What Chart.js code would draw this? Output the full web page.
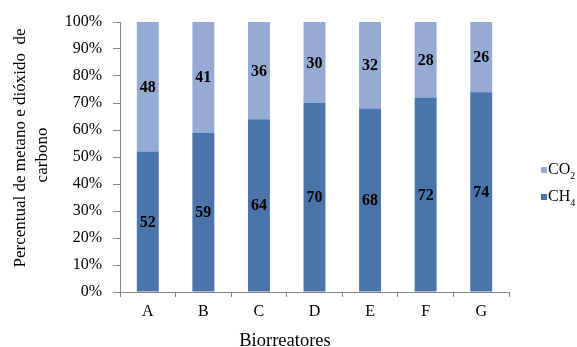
<!DOCTYPE html>
<html>
<head>
<meta charset="utf-8">
<script src="https://cdn.jsdelivr.net/npm/chart.js@4/dist/chart.umd.min.js"></script>
<style>
  html, body { margin: 0; padding: 0; background: #fff; }
  #wrap { width: 577px; height: 347px; position: relative; }
</style>
</head>
<body>
<div id="wrap"><canvas id="c" width="577" height="347"></canvas></div>
<script>
// Biogas composition per bioreactor (percent)
const categories = ['A', 'B', 'C', 'D', 'E', 'F', 'G'];
const ch4Values = [52, 59, 64, 70, 68, 72, 74];
const co2Values = [48, 41, 36, 30, 32, 28, 26];
const yTickLabels = ['0%', '10%', '20%', '30%', '40%', '50%', '60%', '70%', '80%', '90%', '100%'];

const CH4_COLOR = '#4A74AA';
const CO2_COLOR = '#95ABD4';
const SERIF = '"Liberation Serif", "Times New Roman", serif';

// Writes each segment's value in the middle of its bar piece
const valueLabels = {
  id: 'valueLabels',
  afterDatasetsDraw(chart) {
    const ctx = chart.ctx;
    ctx.save();
    ctx.font = 'bold 16px ' + SERIF;
    ctx.fillStyle = '#000';
    ctx.textAlign = 'center';
    ctx.textBaseline = 'middle';
    chart.data.datasets.forEach((ds, di) => {
      const meta = chart.getDatasetMeta(di);
      meta.data.forEach((bar, i) => {
        const { x, y, base } = bar.getProps(['x', 'y', 'base'], true);
        ctx.fillText(String(ds.data[i]), x, (y + base) / 2 + 1);
      });
    });
    ctx.restore();
  }
};

// Axis titles, placed like the original spreadsheet layout
const axisTitles = {
  id: 'axisTitles',
  afterDraw(chart) {
    const ctx = chart.ctx;
    const area = chart.chartArea;
    ctx.save();
    ctx.fillStyle = '#000';
    ctx.textAlign = 'center';
    ctx.textBaseline = 'alphabetic';
    // horizontal title
    ctx.font = '18.5px ' + SERIF;
    ctx.fillText('Biorreatores', area.left + 165, area.bottom + 54);
    // vertical title, two lines
    ctx.font = '17px ' + SERIF;
    ctx.translate(0, 0);
    ctx.save();
    ctx.translate(25, area.top + 126);
    ctx.rotate(-Math.PI / 2);
    ctx.fillText('Percentual de metano e dióxido  de', 0, 0);
    ctx.restore();
    ctx.save();
    ctx.translate(47, area.top + 133);
    ctx.rotate(-Math.PI / 2);
    ctx.fillText('carbono', 0, 0);
    ctx.restore();
    ctx.restore();
  }
};

// Legend on the right with subscripted formulas
const formulaLegend = {
  id: 'formulaLegend',
  afterDraw(chart) {
    const ctx = chart.ctx;
    const entries = [
      { base: 'CO', sub: '2', color: CO2_COLOR, y: 170 },
      { base: 'CH', sub: '4', color: CH4_COLOR, y: 197 }
    ];
    ctx.save();
    entries.forEach(e => {
      ctx.fillStyle = e.color;
      ctx.fillRect(541, e.y - 3, 6, 6);
      ctx.fillStyle = '#000';
      ctx.textBaseline = 'middle';
      ctx.textAlign = 'left';
      ctx.font = '16px ' + SERIF;
      ctx.fillText(e.base, 548, e.y);
      const w = ctx.measureText(e.base).width;
      ctx.font = '10px ' + SERIF;
      ctx.fillText(e.sub, 548 + w, e.y + 6);
    });
    ctx.restore();
  }
};

new Chart(document.getElementById('c'), {
  type: 'bar',
  data: {
    labels: categories,
    datasets: [
      { label: 'CH4', data: ch4Values, backgroundColor: CH4_COLOR, barPercentage: 0.5, categoryPercentage: 0.79 },
      { label: 'CO2', data: co2Values, backgroundColor: CO2_COLOR, barPercentage: 0.5, categoryPercentage: 0.79 }
    ]
  },
  options: {
    responsive: false,
    animation: false,
    devicePixelRatio: 1,
    layout: { padding: { left: 0, right: 68, top: 22, bottom: 0 } },
    plugins: {
      legend: { display: false },
      tooltip: { enabled: false }
    },
    scales: {
      x: {
        stacked: true,
        afterFit: (s) => { s.height = 55; },
        grid: { display: true, drawOnChartArea: false, drawTicks: true, tickLength: 5, color: '#868686', offset: true },
        border: { display: true, color: '#868686' },
        ticks: { color: '#000', font: { family: SERIF, size: 16 }, padding: 5 },
        title: { display: false }
      },
      y: {
        stacked: true,
        min: 0,
        max: 100,
        afterFit: (s) => { s.width = 120; },
        grid: { display: true, drawOnChartArea: false, drawTicks: true, tickLength: 7, color: '#868686' },
        border: { display: true, color: '#868686' },
        ticks: {
          stepSize: 10,
          color: '#000',
          font: { family: SERIF, size: 16 },
          padding: 11,
          callback: (v) => yTickLabels[Math.round(v / 10)]
        },
        title: { display: false }
      }
    }
  },
  plugins: [valueLabels, axisTitles, formulaLegend]
});
</script>
</body>
</html>
